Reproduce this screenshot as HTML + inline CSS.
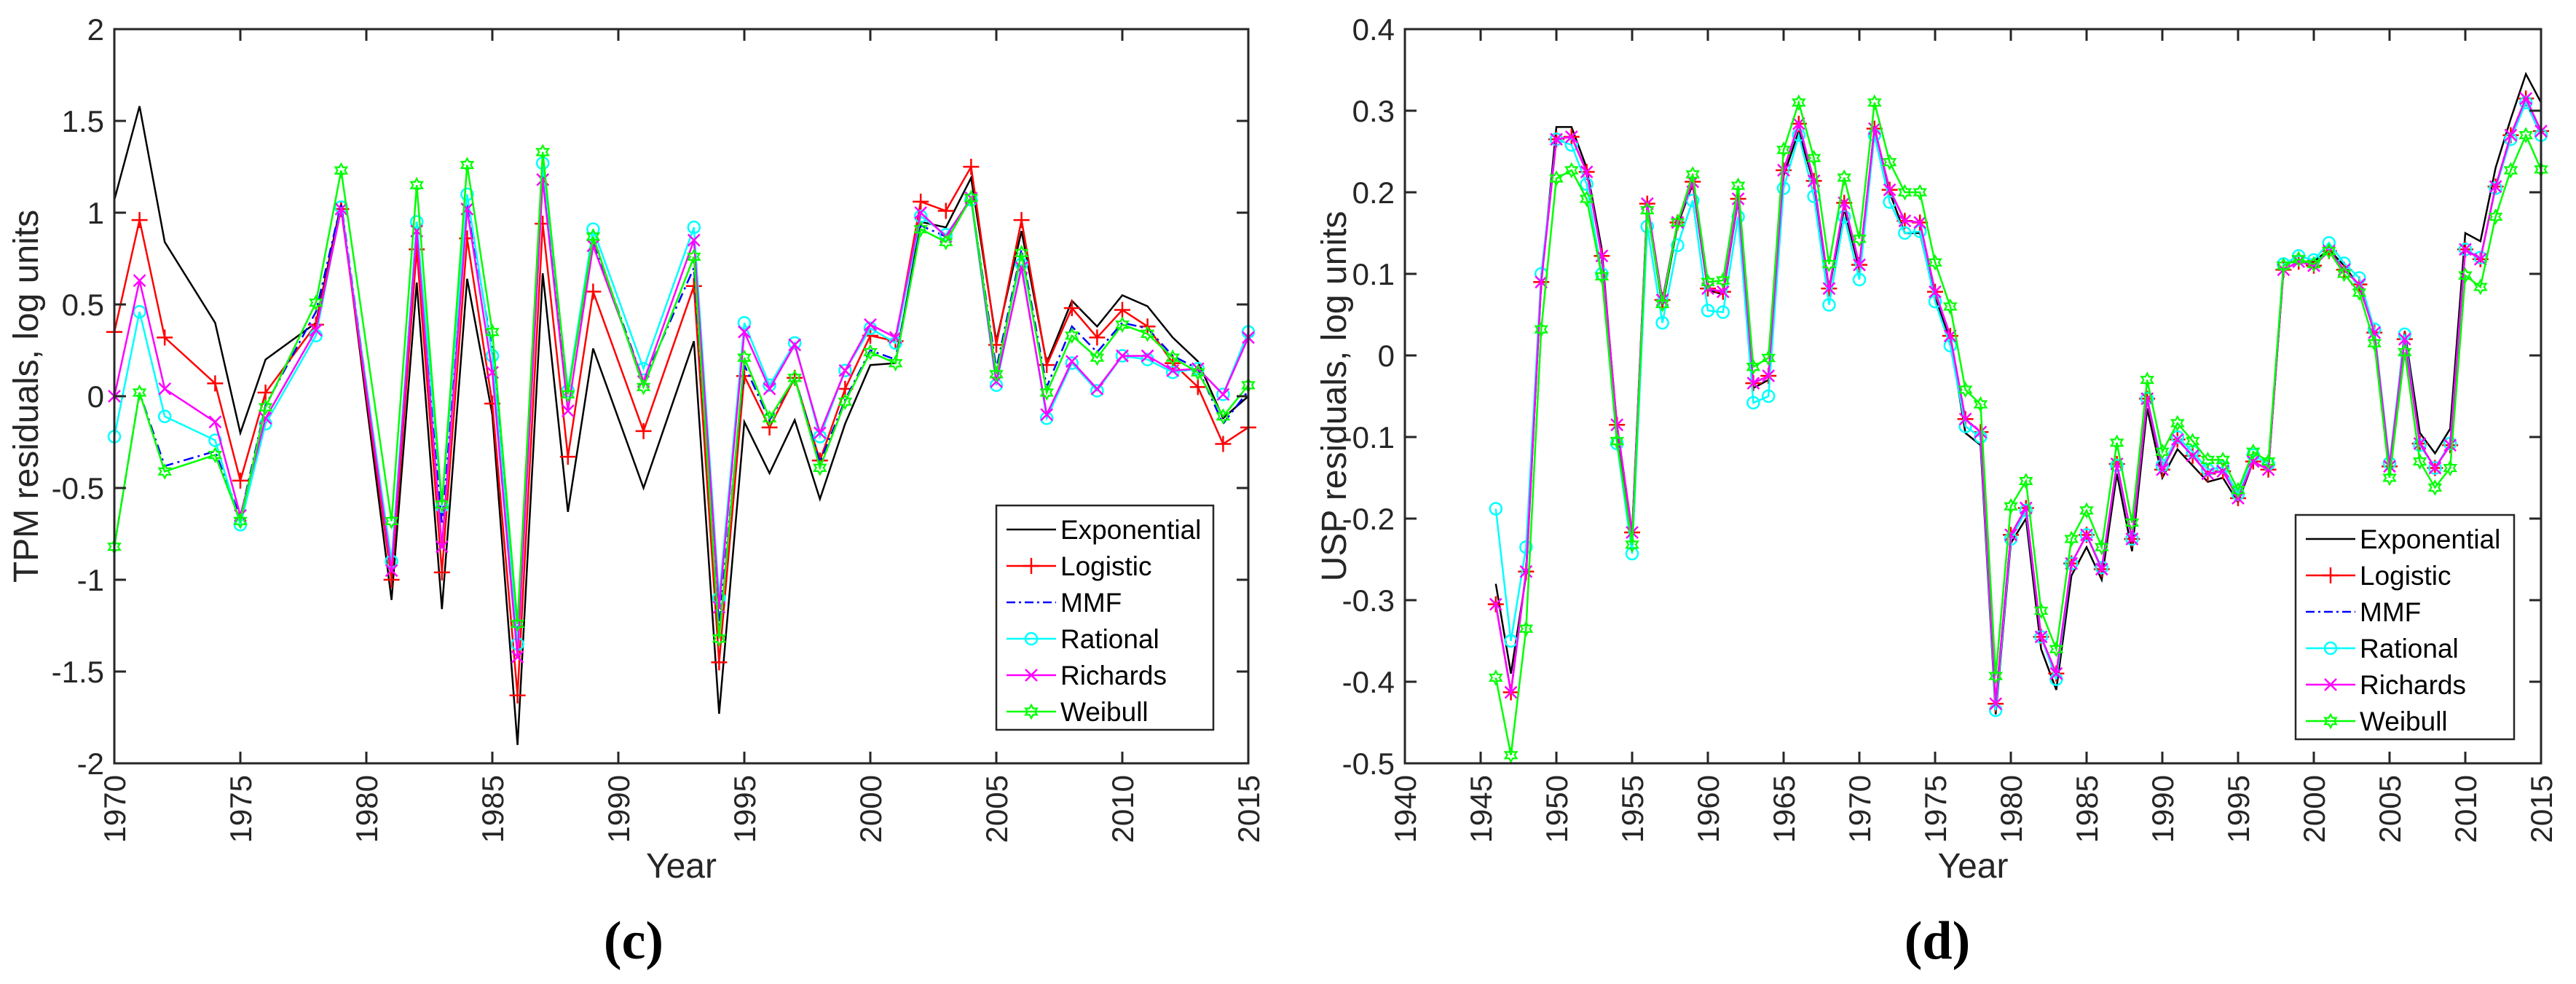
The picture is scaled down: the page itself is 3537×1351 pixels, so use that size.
<!DOCTYPE html>
<html><head><meta charset="utf-8"><style>
html,body{margin:0;padding:0;background:#fff;}
svg{display:block;}
text{font-family:"Liberation Sans",sans-serif;fill:#262626;}
</style></head><body>
<svg id="s" width="3537" height="1351" viewBox="0 0 3537 1351" xmlns="http://www.w3.org/2000/svg"></svg>
<script>
const yearsC = [1970,1971,1972,1974,1975,1976,1978,1979,1981,1982,1983,1984,1985,1986,1987,1988,1989,1991,1993,1994,1995,1996,1997,1998,1999,2000,2001,2002,2003,2004,2005,2006,2007,2008,2009,2010,2011,2012,2013,2014,2015];
const expC = [1.07,1.58,0.84,0.4,-0.2,0.2,0.4,1.05,-1.11,0.62,-1.16,0.64,-0.1,-1.9,0.67,-0.63,0.26,-0.5,0.3,-1.73,-0.14,-0.42,-0.13,-0.56,-0.15,0.17,0.18,0.95,0.92,1.19,0.3,0.9,0.18,0.52,0.38,0.55,0.49,0.32,0.19,-0.12,0.0];
const logC = [0.35,0.96,0.32,0.07,-0.46,0.02,0.39,1.02,-1.0,0.8,-0.96,0.86,-0.04,-1.63,0.94,-0.33,0.57,-0.19,0.6,-1.45,0.11,-0.17,0.1,-0.35,0.04,0.33,0.3,1.06,1.01,1.25,0.28,0.96,0.17,0.48,0.32,0.47,0.38,0.18,0.05,-0.26,-0.17];
const mmfC = [-0.82,0.02,-0.38,-0.3,-0.66,-0.05,0.46,1.05,-0.92,0.95,-0.7,1.05,0.25,-1.3,1.2,0.02,0.85,0.08,0.7,-1.25,0.17,-0.13,0.1,-0.36,-0.02,0.25,0.2,0.93,0.87,1.08,0.15,0.8,0.05,0.38,0.24,0.4,0.37,0.22,0.15,-0.15,0.03];
const ratC = [-0.22,0.46,-0.11,-0.24,-0.7,-0.15,0.33,1.03,-0.9,0.95,-0.6,1.1,0.22,-1.35,1.27,0.03,0.91,0.15,0.92,-1.1,0.4,0.06,0.29,-0.22,0.14,0.37,0.29,0.98,0.88,1.07,0.06,0.72,-0.12,0.18,0.03,0.22,0.2,0.13,0.15,0.01,0.35];
const ricC = [0.0,0.63,0.04,-0.14,-0.65,-0.12,0.36,1.02,-0.95,0.9,-0.82,1.02,0.13,-1.42,1.18,-0.08,0.82,0.08,0.85,-1.15,0.35,0.04,0.28,-0.2,0.14,0.39,0.32,1.0,0.87,1.08,0.08,0.7,-0.1,0.19,0.04,0.22,0.22,0.14,0.15,0.01,0.32];
const weiC = [-0.82,0.02,-0.41,-0.32,-0.68,-0.06,0.51,1.23,-0.68,1.15,-0.59,1.26,0.35,-1.24,1.33,0.01,0.87,0.05,0.76,-1.32,0.21,-0.12,0.1,-0.39,-0.03,0.24,0.18,0.91,0.84,1.08,0.12,0.78,0.02,0.33,0.21,0.39,0.34,0.21,0.13,-0.11,0.06];

const yearsD = [1946,1947,1948,1949,1950,1951,1952,1953,1954,1955,1956,1957,1958,1959,1960,1961,1962,1963,1964,1965,1966,1967,1968,1969,1970,1971,1972,1973,1974,1975,1976,1977,1978,1979,1980,1981,1982,1983,1984,1985,1986,1987,1988,1989,1990,1991,1992,1993,1994,1995,1996,1997,1998,1999,2000,2001,2002,2003,2004,2005,2006,2007,2008,2009,2010,2011,2012,2013,2014,2015];
const expD = [-0.28,-0.39,-0.27,0.09,0.28,0.28,0.23,0.13,-0.09,-0.22,0.18,0.06,0.16,0.21,0.08,0.075,0.19,-0.04,-0.03,0.22,0.275,0.21,0.08,0.18,0.105,0.28,0.2,0.15,0.15,0.07,0.02,-0.095,-0.11,-0.44,-0.23,-0.2,-0.36,-0.41,-0.27,-0.235,-0.275,-0.145,-0.24,-0.065,-0.15,-0.115,-0.135,-0.155,-0.15,-0.18,-0.13,-0.14,0.105,0.115,0.115,0.13,0.11,0.085,0.03,-0.14,0.03,-0.095,-0.12,-0.09,0.15,0.14,0.23,0.29,0.345,0.31];
const logD = [-0.305,-0.413,-0.265,0.09,0.265,0.268,0.225,0.122,-0.085,-0.217,0.186,0.068,0.163,0.213,0.082,0.078,0.192,-0.034,-0.025,0.227,0.284,0.214,0.082,0.187,0.111,0.278,0.203,0.165,0.163,0.078,0.024,-0.078,-0.094,-0.427,-0.22,-0.187,-0.345,-0.39,-0.255,-0.22,-0.262,-0.133,-0.225,-0.053,-0.14,-0.103,-0.123,-0.145,-0.142,-0.175,-0.13,-0.14,0.105,0.115,0.11,0.128,0.105,0.087,0.028,-0.136,0.02,-0.108,-0.138,-0.11,0.13,0.118,0.207,0.27,0.315,0.275];
const mmfD = [-0.305,-0.413,-0.265,0.09,0.265,0.268,0.225,0.122,-0.085,-0.217,0.186,0.068,0.163,0.213,0.082,0.078,0.192,-0.034,-0.025,0.227,0.284,0.214,0.082,0.187,0.111,0.278,0.203,0.165,0.163,0.078,0.024,-0.078,-0.094,-0.427,-0.22,-0.187,-0.345,-0.39,-0.255,-0.22,-0.262,-0.133,-0.225,-0.053,-0.14,-0.103,-0.123,-0.145,-0.142,-0.175,-0.13,-0.14,0.105,0.115,0.11,0.128,0.105,0.087,0.028,-0.136,0.02,-0.108,-0.138,-0.11,0.13,0.118,0.207,0.27,0.315,0.275];
const ratD = [-0.188,-0.35,-0.235,0.1,0.265,0.258,0.21,0.1,-0.108,-0.243,0.158,0.04,0.135,0.19,0.055,0.053,0.17,-0.058,-0.05,0.205,0.27,0.195,0.062,0.17,0.093,0.27,0.188,0.15,0.152,0.066,0.012,-0.087,-0.1,-0.435,-0.225,-0.19,-0.345,-0.397,-0.255,-0.22,-0.26,-0.135,-0.225,-0.053,-0.135,-0.1,-0.118,-0.14,-0.137,-0.17,-0.122,-0.133,0.112,0.122,0.117,0.138,0.113,0.095,0.032,-0.132,0.026,-0.11,-0.138,-0.108,0.13,0.12,0.205,0.265,0.31,0.27];
const ricD = [-0.305,-0.413,-0.265,0.09,0.265,0.268,0.225,0.122,-0.085,-0.217,0.186,0.068,0.163,0.213,0.082,0.078,0.192,-0.034,-0.025,0.227,0.284,0.214,0.082,0.187,0.111,0.278,0.203,0.165,0.163,0.078,0.024,-0.078,-0.094,-0.427,-0.22,-0.187,-0.345,-0.39,-0.255,-0.22,-0.262,-0.133,-0.225,-0.053,-0.14,-0.103,-0.123,-0.145,-0.142,-0.175,-0.13,-0.14,0.105,0.115,0.11,0.128,0.105,0.087,0.028,-0.136,0.02,-0.108,-0.138,-0.11,0.13,0.118,0.207,0.27,0.315,0.275];
const weiD = [-0.395,-0.49,-0.335,0.032,0.217,0.227,0.192,0.097,-0.105,-0.232,0.178,0.063,0.163,0.222,0.09,0.092,0.208,-0.014,-0.003,0.252,0.31,0.242,0.112,0.218,0.143,0.31,0.237,0.2,0.2,0.114,0.06,-0.042,-0.06,-0.393,-0.185,-0.154,-0.313,-0.36,-0.225,-0.19,-0.235,-0.107,-0.205,-0.03,-0.118,-0.083,-0.105,-0.128,-0.128,-0.165,-0.118,-0.13,0.11,0.118,0.112,0.128,0.1,0.077,0.015,-0.15,0.004,-0.13,-0.162,-0.138,0.098,0.084,0.17,0.227,0.27,0.228];

const seriesNames = ["Exponential","Logistic","MMF","Rational","Richards","Weibull"];
const xTicksC = [1970,1975,1980,1985,1990,1995,2000,2005,2010,2015];
const yTicksC = [-2,-1.5,-1,-0.5,0,0.5,1,1.5,2];
const xTicksD = [1940,1945,1950,1955,1960,1965,1970,1975,1980,1985,1990,1995,2000,2005,2010,2015];
const yTicksD = [-0.5,-0.4,-0.3,-0.2,-0.1,0,0.1,0.2,0.3,0.4];

const NS="http://www.w3.org/2000/svg";
const svg=document.getElementById('s');
function mk(tag,attrs,parent){const e=document.createElementNS(NS,tag);for(const k in attrs)e.setAttribute(k,attrs[k]);(parent||svg).appendChild(e);return e;}
const styles=[
 {c:'#000000',m:'none',dash:''},
 {c:'#ff0000',m:'plus',dash:''},
 {c:'#0000ff',m:'none',dash:'14 6 3 6'},
 {c:'#00ffff',m:'circle',dash:''},
 {c:'#ff00ff',m:'x',dash:''},
 {c:'#00ff00',m:'hex',dash:''}
];
function marker(g,type,x,y,c){
  if(type==='plus'){mk('path',{d:`M${x-11},${y}H${x+11}M${x},${y-11}V${y+11}`,stroke:c,'stroke-width':2.5,fill:'none'},g);}
  else if(type==='circle'){mk('circle',{cx:x,cy:y,r:8,stroke:c,'stroke-width':2.5,fill:'none'},g);}
  else if(type==='x'){mk('path',{d:`M${x-8},${y-8}L${x+8},${y+8}M${x-8},${y+8}L${x+8},${y-8}`,stroke:c,'stroke-width':2.5,fill:'none'},g);}
  else if(type==='hex'){const r=9,r2=5;let p='';for(let i=0;i<12;i++){const a=Math.PI/6*i-Math.PI/2;const rr=i%2?r2:r;p+=(i?'L':'M')+(x+rr*Math.cos(a)).toFixed(1)+','+(y+rr*Math.sin(a)).toFixed(1);}mk('path',{d:p+'Z',stroke:c,'stroke-width':2.2,fill:'none'},g);}
}
function chart(o){
  const g=mk('g',{});
  
  
  const X=v=>o.L+(v-o.x0)/(o.x1-o.x0)*(o.R-o.L);
  const Y=v=>o.B-(v-o.y0)/(o.y1-o.y0)*(o.B-o.T);
  o.series.forEach((vals,si)=>{
    const st=styles[si];
    const sg=mk('g',{},g);
    
    
    const pts=o.years.map((yr,i)=>X(yr).toFixed(1)+','+Y(vals[i]).toFixed(1)).join(' ');
    const pl=mk('polyline',{points:pts,fill:'none',stroke:st.c,'stroke-width':2.5,'stroke-linejoin':'miter'},sg);
    if(st.dash)pl.setAttribute('stroke-dasharray',st.dash);
    if(st.m!=='none')o.years.forEach((yr,i)=>marker(sg,st.m,X(yr),Y(vals[i]),st.c));
  });
  const box=mk('rect',{x:o.L,y:o.T,width:o.R-o.L,height:o.B-o.T,fill:'none',stroke:'#262626','stroke-width':3},g);
  
  
  o.xt.forEach(t=>{const x=X(t);
    mk('path',{d:`M${x},${o.B}v-16M${x},${o.T}v16`,stroke:'#262626','stroke-width':3},g);
    const tx=mk('text',{x:0,y:0,'font-size':42,'text-anchor':'end',transform:`translate(${x+15},${o.B+16}) rotate(-90)`},g);
    tx.textContent=t;
    
    
  });
  o.yt.forEach(t=>{const y=Y(t);
    mk('path',{d:`M${o.L},${y}h16M${o.R},${y}h-16`,stroke:'#262626','stroke-width':3},g);
    const tx=mk('text',{x:o.L-14,y:y+15,'font-size':42,'text-anchor':'end'},g);
    tx.textContent=String(t);
    
    
  });
  const xl=mk('text',{x:(o.L+o.R)/2,y:1205,'font-size':48,'text-anchor':'middle'},g);
  xl.textContent='Year';
  
  
  const yl=mk('text',{x:0,y:0,'font-size':48,'text-anchor':'middle',transform:`translate(${o.ylx},${(o.T+o.B)/2}) rotate(-90)`},g);
  yl.textContent=o.ylabel;
  
  
  const cap=mk('text',{x:o.capx,y:1316,'font-size':74,'font-weight':'bold','text-anchor':'middle',style:'font-family:"Liberation Serif",serif;fill:#000'},g);
  cap.textContent=o.cap;
  
  
  const lg=mk('g',{},g);
  
  
  mk('rect',{x:o.lx,y:o.ly,width:o.lw,height:308,fill:'#fff',stroke:'#262626','stroke-width':2.5},lg);
  seriesNames.forEach((n,i)=>{
    const yy=o.ly+33+i*50, st=styles[i];
    const le=mk('g',{},lg);
    
    
    const ln=mk('line',{x1:o.lx+14,x2:o.lx+82,y1:yy,y2:yy,stroke:st.c,'stroke-width':2.5},le);
    if(st.dash)ln.setAttribute('stroke-dasharray','12 5 3 5');
    if(st.m!=='none')marker(le,st.m,o.lx+48,yy,st.c);
    const t=mk('text',{x:o.lx+88,y:yy+13,'font-size':37,style:'fill:#000'},le);
    t.textContent=n;
  });
}
chart({name:'chart-c-tpm',L:157,R:1714,T:40,B:1048,x0:1970,x1:2015,y0:-2,y1:2,years:yearsC,
  series:[expC,logC,mmfC,ratC,ricC,weiC],xt:xTicksC,yt:yTicksC,ylabel:'TPM residuals, log units',ylx:52,
  cap:'(c)',capx:870,lx:1368,ly:694,lw:298});
chart({name:'chart-d-usp',L:1929,R:3489,T:40,B:1048,x0:1940,x1:2015,y0:-0.5,y1:0.4,years:yearsD,
  series:[expD,logD,mmfD,ratD,ricD,weiD],xt:xTicksD,yt:yTicksD,ylabel:'USP residuals, log units',ylx:1848,
  cap:'(d)',capx:2660,lx:3152,ly:707,lw:300});
</script>
</body></html>
